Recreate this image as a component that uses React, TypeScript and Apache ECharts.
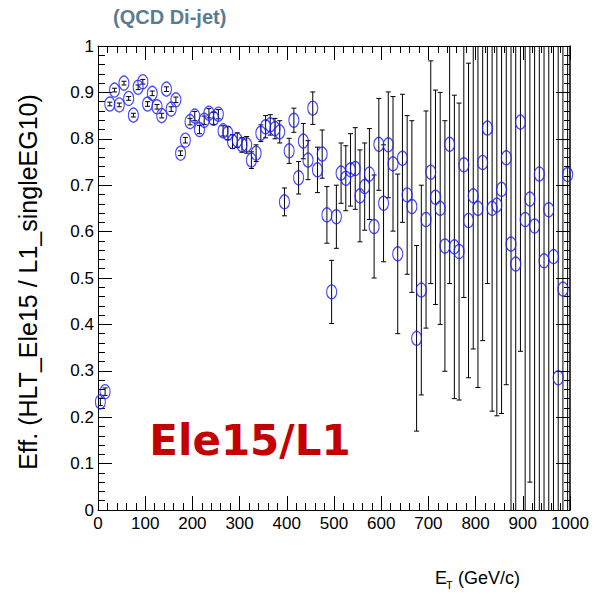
import React, { useEffect, useRef } from "react";
import * as echarts from "echarts";

// Transverse-energy bin centres (GeV), 10 GeV bins from 0 to 1000
const ET_BINS = [
  5, 15, 25, 35, 45, 55, 65, 75, 85, 95,
  105, 115, 125, 135, 145, 155, 165, 175, 185, 195,
  205, 215, 225, 235, 245, 255, 265, 275, 285, 295,
  305, 315, 325, 335, 345, 355, 365, 375, 385, 395,
  405, 415, 425, 435, 445, 455, 465, 475, 485, 495,
  505, 515, 525, 535, 545, 555, 565, 575, 585, 595,
  605, 615, 625, 635, 645, 655, 665, 675, 685, 695,
  705, 715, 725, 735, 745, 755, 765, 775, 785, 795,
  805, 815, 825, 835, 845, 855, 865, 875, 885, 895,
  905, 915, 925, 935, 945, 955, 965, 975, 985, 995,
];

// HLT_Ele15 / L1_singleEG10 efficiency per bin
const EFFICIENCY = [
  0.233, 0.255, 0.875, 0.905, 0.873, 0.92, 0.887, 0.851, 0.911, 0.923,
  0.875, 0.898, 0.869, 0.85, 0.907, 0.864, 0.884, 0.769, 0.797, 0.837,
  0.849, 0.82, 0.84, 0.855, 0.844, 0.853, 0.817, 0.812, 0.794, 0.797,
  0.787, 0.787, 0.754, 0.769, 0.812, 0.826, 0.83, 0.822, 0.815, 0.664,
  0.774, 0.84, 0.716, 0.795, 0.754, 0.866, 0.733, 0.767, 0.636, 0.47,
  0.632, 0.726, 0.715, 0.733, 0.736, 0.677, 0.697, 0.724, 0.611, 0.788,
  0.661, 0.787, 0.746, 0.552, 0.758, 0.679, 0.654, 0.37, 0.474, 0.626,
  0.728, 0.674, 0.65, 0.569, 0.788, 0.567, 0.557, 0.744, 0.624, 0.677,
  0.65, 0.749, 0.823, 0.65, 0.657, 0.691, 0.759, 0.573, 0.53, 0.836,
  0.626, 0.67, 0.612, 0.724, 0.537, 0.647, 0.546, 0.285, 0.476, 0.723,
];

// Statistical uncertainty on each efficiency value
const EFF_ERROR = [
  0.008, 0.008, 0.004, 0.004, 0.004, 0.004, 0.004, 0.004, 0.005, 0.005,
  0.005, 0.005, 0.005, 0.005, 0.005, 0.005, 0.006, 0.005, 0.006, 0.007,
  0.01, 0.009, 0.009, 0.01, 0.013, 0.01, 0.011, 0.014, 0.015, 0.016,
  0.016, 0.018, 0.018, 0.018, 0.018, 0.024, 0.022, 0.022, 0.024, 0.03,
  0.027, 0.026, 0.035, 0.038, 0.042, 0.035, 0.049, 0.052, 0.061, 0.068,
  0.068, 0.065, 0.07, 0.078, 0.088, 0.099, 0.094, 0.098, 0.111, 0.099,
  0.126, 0.114, 0.145, 0.172, 0.138, 0.171, 0.185, 0.2, 0.226, 0.234,
  0.24, 0.231, 0.25, 0.27, 0.3, 0.327, 0.32, 0.286, 0.339, 0.33,
  0.386, 0.384, 0.335, 0.437, 0.454, 0.483, 0.489, 0.6, 0.6, 0.494,
  0.65, 0.61, 0.65, 0.75, 0.6, 0.7, 0.6, 0.75, 0.6, 0.75,
];

const FONT = "'Liberation Sans', Arial, Helvetica, sans-serif";

export default function App() {
  const ref = useRef<HTMLDivElement>(null);

  useEffect(() => {
    if (!ref.current) return;
    const chart = echarts.init(ref.current, null, { renderer: "svg" });
    const points = ET_BINS.map((x, i) => [x, EFFICIENCY[i], EFF_ERROR[i]]);

    const black = { color: "#000", width: 1 };
    const labelStyle = { fontFamily: FONT, fontSize: 17, color: "#000" };

    const xBase = {
      type: "value",
      min: 0,
      max: 1000,
      interval: 100,
      axisLine: { show: true, onZero: false, lineStyle: black },
      axisTick: { show: true, inside: true, length: 14, lineStyle: black },
      minorTick: { show: true, splitNumber: 5, length: 7, lineStyle: black },
      splitLine: { show: false },
      minorSplitLine: { show: false },
    };
    const yBase = {
      type: "value",
      min: 0,
      max: 1,
      interval: 0.1,
      axisLine: { show: true, onZero: false, lineStyle: black },
      axisTick: { show: true, inside: true, length: 14, lineStyle: black },
      minorTick: { show: true, splitNumber: 5, length: 7, lineStyle: black },
      splitLine: { show: false },
      minorSplitLine: { show: false },
    };

    chart.setOption({
      animation: false,
      backgroundColor: "#fff",
      grid: { left: 98, top: 46, width: 472, height: 464, containLabel: false },
      xAxis: [
        {
          ...xBase,
          position: "bottom",
          axisLabel: { ...labelStyle, margin: 5, formatter: (v: number) => String(v) },
        },
        { ...xBase, position: "top", axisLabel: { show: false } },
      ],
      yAxis: [
        {
          ...yBase,
          position: "left",
          axisLabel: { ...labelStyle, margin: 4, formatter: (v: number) => String(+v.toFixed(1)) },
        },
        {
          ...yBase,
          position: "right",
          axisLine: { show: true, onZero: false, lineStyle: { color: "#000", width: 1.5 } },
          axisLabel: { show: false },
          minorTick: { show: true, splitNumber: 5, length: 6, lineStyle: black },
        },
      ],
      series: [
        {
          type: "custom",
          name: "errors",
          xAxisIndex: 0,
          yAxisIndex: 0,
          clip: true,
          data: points,
          encode: { x: 0, y: 1 },
          renderItem: (params: any, api: any) => {
            const x = api.value(0);
            const y = api.value(1);
            const e = api.value(2);
            const hi = api.coord([x, y + e]);
            const lo = api.coord([x, y - e]);
            const cap = 2.5;
            const st = { stroke: "#000", lineWidth: 1 };
            return {
              type: "group",
              children: [
                { type: "line", shape: { x1: hi[0], y1: hi[1], x2: lo[0], y2: lo[1] }, style: st },
                { type: "line", shape: { x1: hi[0] - cap, y1: hi[1], x2: hi[0] + cap, y2: hi[1] }, style: st },
                { type: "line", shape: { x1: lo[0] - cap, y1: lo[1], x2: lo[0] + cap, y2: lo[1] }, style: st },
              ],
            };
          },
          z: 2,
        },
        {
          type: "scatter",
          name: "efficiency",
          xAxisIndex: 0,
          yAxisIndex: 0,
          data: points.map((p) => [p[0], p[1]]),
          symbol: "circle",
          symbolSize: [10, 14],
          itemStyle: { color: "rgba(0,0,0,0)", borderColor: "#1a1aff", borderWidth: 1.2 },
          z: 3,
        },
      ],
      graphic: [
        {
          type: "text",
          left: 113,
          top: 7,
          style: { text: "(QCD Di-jet)", fontFamily: FONT, fontSize: 20, fontWeight: "bold", fill: "#5b7b93" },
        },
        {
          type: "text",
          x: 250,
          y: 440,
          style: {
            text: "Ele15/L1",
            fontFamily: "'DejaVu Sans', sans-serif",
            fontSize: 42,
            fontWeight: "bold",
            fill: "#c40000",
            textAlign: "center",
            textVerticalAlign: "middle",
          },
        },
        {
          type: "text",
          x: 28,
          y: 282,
          rotation: Math.PI / 2,
          style: {
            text: "Eff. (HLT_Ele15 / L1_singleEG10)",
            fontFamily: FONT,
            fontSize: 25,
            fill: "#000",
            textAlign: "center",
            textVerticalAlign: "middle",
          },
        },
        {
          type: "text",
          x: 435,
          y: 578,
          style: { text: "E", fontFamily: FONT, fontSize: 18, fill: "#000", textVerticalAlign: "middle" },
        },
        {
          type: "text",
          x: 446,
          y: 585,
          style: { text: "T", fontFamily: FONT, fontSize: 11, fill: "#000", textVerticalAlign: "middle" },
        },
        {
          type: "text",
          x: 453,
          y: 578,
          style: { text: " (GeV/c)", fontFamily: FONT, fontSize: 18, fill: "#000", textVerticalAlign: "middle" },
        },
      ],
    });

    return () => chart.dispose();
  }, []);

  return (
    <div
      ref={ref}
      style={{ position: "fixed", left: 0, top: 0, width: 595, height: 601, background: "#fff" }}
    />
  );
}
